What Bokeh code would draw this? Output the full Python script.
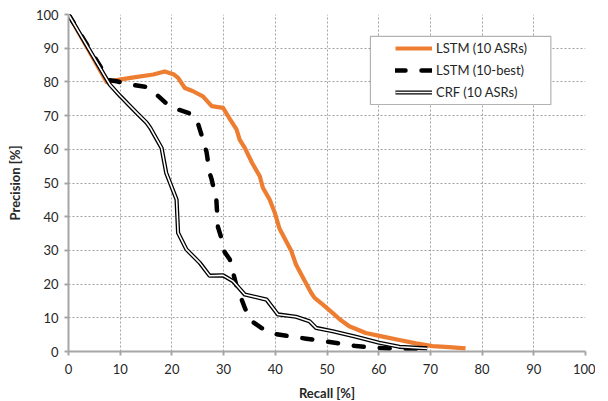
from bokeh.plotting import figure
from bokeh.models import Range1d, FixedTicker, Legend, LegendItem, BoxAnnotation
from bokeh.embed import file_html
from bokeh.resources import INLINE

# ---- data ----
ticks = [0, 10, 20, 30, 40, 50, 60, 70, 80, 90, 100]

lstm_asr_x = [0, 7.4, 8.7, 12, 16.4, 18.6, 20.3, 21.2, 22.5, 24, 26, 27.7, 29.9, 31, 32.5,
              33.1, 34.1, 35.5, 37, 37.6, 38.9, 39.9, 40.8, 42, 43.1, 44, 45.7, 46.9, 47.6,
              49.2, 51.4, 52.5, 54.3, 57.5, 60.8, 64, 67.2, 70.4, 73.6, 76.8]
lstm_asr_y = [100, 79.9, 80.4, 81.2, 82.2, 83.1, 82.3, 81.2, 78.2, 77.3, 75.7, 72.8, 72.3, 69.5, 65.9,
              62.9, 60.4, 56, 52, 48.6, 45.1, 41.2, 36.5, 33, 29.8, 25.8, 20.9, 17.5, 15.9,
              13.9, 11, 9.5, 7.5, 5.5, 4.4, 3.4, 2.4, 1.6, 1.3, 0.9]

lstm_nbest_x = [0, 7.8, 9.3, 11.9, 15.1, 17, 19.3, 21.2, 24.1, 25.1, 26, 26.7, 27.3, 27.7, 28.6,
                28.9, 29.6, 30.2, 31.2, 32.5, 34.1, 35, 37.3, 39.5, 42.8, 46, 49.2, 52.5, 55.6,
                59.5, 62.5, 65.9, 68]
lstm_nbest_y = [100, 80.5, 80.2, 79.2, 78.5, 76.3, 73.1, 71.8, 70.3, 67.4, 62.9, 59.2, 53, 51, 45,
                37, 33.5, 29.5, 27.3, 19.4, 13, 9.5, 7, 5.3, 4.5, 3.8, 3.1, 2.4, 1.6,
                1.1, 0.9, 0.8, 0.6]

crf_x = [0, 8, 10, 13.2, 15.1, 15.8, 18, 18.9, 20.9, 21.2, 22.8, 25.4, 27.3, 29.9, 31.8,
         34.1, 38.3, 40.5, 44, 46.6, 47.9, 51.1, 55.6, 60.1, 64, 69.4]
crf_y = [100, 79.2, 75.8, 70.8, 67.9, 66.4, 60.4, 53, 45.1, 35.2, 30.3, 26.3, 22.5, 22.6, 20.9,
         16.9, 15.4, 11, 10.3, 9, 7, 6, 4.4, 2.6, 1.4, 0.9]

labels = ["LSTM (10 ASRs)", "LSTM (10-best)", "CRF (10 ASRs)"]

ORANGE = "#ED7D31"
GRAY = "#A6A6A6"
FONT = "Lato"

p = figure(frame_width=517, frame_height=337, output_backend="svg", toolbar_location=None,
           x_range=Range1d(0, 100), y_range=Range1d(0, 100),
           min_border_left=68, min_border_right=10, min_border_top=14, min_border_bottom=49)
p.outline_line_color = None
p.background_fill_color = "white"

for ax in (p.xaxis[0], p.yaxis[0]):
    ax.ticker = FixedTicker(ticks=ticks)
    ax.axis_line_color = GRAY
    ax.axis_line_width = 2
    ax.major_tick_line_color = GRAY
    ax.major_tick_line_width = 2
    ax.major_tick_out = 4
    ax.major_tick_in = 0
    ax.minor_tick_line_color = None
    ax.major_label_text_font = FONT
    ax.major_label_text_font_size = "13px"
    ax.major_label_text_color = "#262626"
    ax.axis_label_text_font = FONT
    ax.axis_label_text_font_size = "13px"
    ax.axis_label_text_font_style = "bold"
    ax.axis_label_text_color = "#262626"

p.xaxis.axis_label = "Recall [%]"
p.yaxis.axis_label = "Precision [%]"
p.xaxis.major_label_standoff = 8
p.xaxis.axis_label_standoff = 8
p.yaxis.major_label_standoff = 6
p.yaxis.axis_label_standoff = 10

for g in (p.xgrid[0], p.ygrid[0]):
    g.ticker = FixedTicker(ticks=ticks)
    g.grid_line_color = "#A0A0A0"
    g.grid_line_dash = "2 2"
    g.grid_line_width = 1

r_orange = p.line(lstm_asr_x, lstm_asr_y, line_color=ORANGE, line_width=4.2, line_join="round")
r_dash = p.line(lstm_nbest_x, lstm_nbest_y, line_color="black", line_width=4.5,
                line_dash="10 16", line_cap="round", line_join="round")
r_crf_outer = p.line(crf_x, crf_y, line_color="black", line_width=4.2, line_join="round")
r_crf_inner = p.line(crf_x, crf_y, line_color="white", line_width=1.6, line_join="round")

box = BoxAnnotation(left=58.4, right=93.3, bottom=73.3, top=93.5,
                    fill_color="white", fill_alpha=1.0, line_color="black", line_width=1.2)
p.add_layout(box)

legend = Legend(items=[
    LegendItem(label=labels[0], renderers=[r_orange]),
    LegendItem(label=labels[1], renderers=[r_dash]),
    LegendItem(label=labels[2], renderers=[r_crf_outer, r_crf_inner]),
], location=(327, 249), padding=0, spacing=2, label_height=20, glyph_height=20,
    glyph_width=37, label_standoff=4, border_line_alpha=0, background_fill_alpha=0,
    label_text_font=FONT, label_text_font_size="13px", label_text_color="#262626",
    margin=0)
p.add_layout(legend)

open("out.html", "w").write(file_html(p, INLINE))
